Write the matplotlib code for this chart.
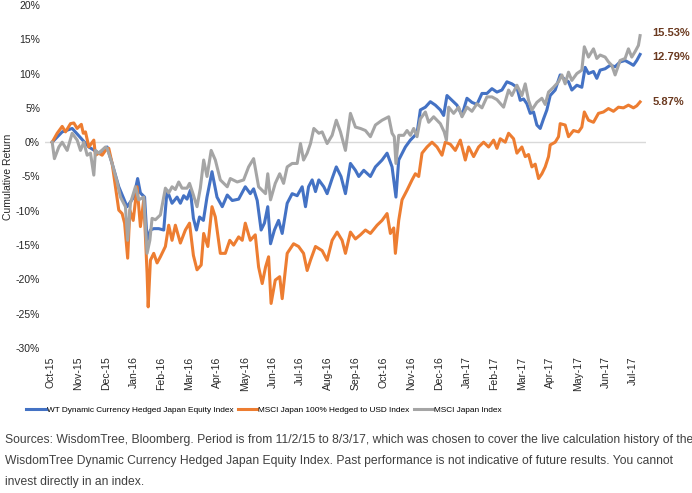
import matplotlib
matplotlib.use("Agg")
import matplotlib.pyplot as plt
from matplotlib.lines import Line2D

plt.rcParams['font.family'] = ['Liberation Sans', 'DejaVu Sans']

# month labels on the x axis
months = ['Oct-15', 'Nov-15', 'Dec-15', 'Jan-16', 'Feb-16', 'Mar-16', 'Apr-16', 'May-16',
          'Jun-16', 'Jul-16', 'Aug-16', 'Sep-16', 'Oct-16', 'Nov-16', 'Dec-16', 'Jan-17',
          'Feb-17', 'Mar-17', 'Apr-17', 'May-17', 'Jun-17', 'Jul-17']

names = ['WT Dynamic Currency Hedged Japan Equity Index',
         'MSCI Japan 100% Hedged to USD Index',
         'MSCI Japan Index']
colors = ['#4472C4', '#ED7D31', '#A5A5A5']

# time in months from the first label, cumulative return in %
wt_t = [0.06, 0.42, 0.78, 0.96, 1.38, 1.74, 2.04, 2.22, 2.46, 2.76, 3.00, 3.14, 3.24, 3.39, 3.48,
        3.60, 3.72, 3.90, 4.08, 4.20, 4.38, 4.56, 4.68, 4.80, 4.92, 5.04, 5.15, 5.26, 5.37, 5.51,
        5.64, 5.82, 6.00, 6.19, 6.37, 6.55, 6.78, 7.02, 7.20, 7.32, 7.45, 7.59, 7.71, 7.83, 7.93,
        8.07, 8.22, 8.35, 8.53, 8.71, 8.89, 9.07, 9.19, 9.30, 9.43, 9.55, 9.67, 9.85, 9.97, 10.15,
        10.30, 10.47, 10.63, 10.81, 10.99, 11.11, 11.29, 11.53, 11.71, 11.95, 12.13, 12.31, 12.45,
        12.55, 12.79, 12.97, 13.21, 13.33, 13.51, 13.69, 13.87, 14.05, 14.17, 14.29, 14.47, 14.65,
        14.83, 15.01, 15.19, 15.37, 15.55, 15.73, 15.91, 16.09, 16.27, 16.45, 16.63, 16.81, 16.93,
        17.05, 17.17, 17.29, 17.41, 17.53, 17.65, 17.77, 17.89, 18.01, 18.19, 18.37, 18.49, 18.67,
        18.79, 18.97, 19.15, 19.27, 19.39, 19.57, 19.69, 19.81, 19.99, 20.17, 20.35, 20.53, 20.71,
        20.89, 21.01, 21.13, 21.25]
wt_v = [0, 1.5, 2.0, 1.2, -0.7, -1.6, -0.7, -3.1, -6.5, -9.4, -8.0, -5.3, -7.4, -8.0, -14.3,
        -12.8, -12.6, -12.6, -12.8, -7.0, -8.9, -8.0, -8.9, -7.8, -8.3, -7.0, -11.1, -12.8, -10.9, -11.4,
        -8.0, -4.3, -8.0, -9.4, -7.7, -8.5, -8.3, -6.5, -7.5, -6.8, -8.5, -12.8, -11.8, -9.4, -14.8,
        -12.8, -11.4, -13.3, -8.9, -7.5, -7.8, -6.5, -9.4, -6.5, -5.5, -7.2, -5.5, -6.5, -7.5, -5.3,
        -3.6, -5.0, -7.5, -3.1, -4.1, -5.0, -4.1, -5.0, -3.6, -2.6, -1.6, -3.6, -8.0,
        -2.6, -0.7, 0.3, 1.3, 4.7, 5.1, 5.9, 5.4, 4.7, 3.9, 6.8, 6.1, 5.4,
        3.9, 6.4, 5.8, 5.5, 7.1, 7.1, 7.8, 7.3, 7.6, 8.8, 8.5, 8.0, 6.1,
        6.3, 5.6, 4.2, 4.4, 2.5, 2.0, 3.4, 4.7, 6.8, 7.6, 9.8, 9.3, 8.8,
        7.6, 8.3, 8.0, 10.9, 10.0, 10.3, 9.3, 10.5, 10.7, 11.2, 11.0, 11.7, 11.9,
        11.5, 11.2, 11.9, 12.79]

hedged_t = [0.06, 0.24, 0.42, 0.54, 0.72, 0.84, 0.96, 1.11, 1.18, 1.26, 1.38, 1.56, 1.62, 1.74, 1.86,
            1.98, 2.10, 2.22, 2.34, 2.46, 2.58, 2.67, 2.78, 2.86, 2.98, 3.12, 3.24, 3.36, 3.48, 3.52,
            3.60, 3.72, 3.84, 3.96, 4.14, 4.26, 4.38, 4.50, 4.68, 4.86, 5.01, 5.15, 5.28, 5.43, 5.52,
            5.67, 5.82, 5.94, 6.12, 6.30, 6.46, 6.60, 6.78, 6.91, 7.02, 7.20, 7.38, 7.50, 7.63, 7.75,
            7.86, 7.95, 8.10, 8.26, 8.35, 8.53, 8.76, 8.94, 9.12, 9.25, 9.37, 9.55, 9.79, 9.97, 10.15,
            10.33, 10.51, 10.63, 10.81, 10.99, 11.17, 11.35, 11.53, 11.77, 11.95, 12.13, 12.25, 12.37,
            12.43, 12.55, 12.67, 12.85, 13.03, 13.15, 13.27, 13.39, 13.57, 13.75, 13.93, 14.11, 14.23,
            14.41, 14.59, 14.77, 14.95, 15.07, 15.25, 15.43, 15.61, 15.79, 15.97, 16.09, 16.21, 16.39,
            16.51, 16.69, 16.81, 16.99, 17.11, 17.23, 17.35, 17.47, 17.59, 17.71, 17.83, 17.95, 18.01,
            18.19, 18.31, 18.37, 18.55, 18.67, 18.85, 19.03, 19.15, 19.24, 19.39, 19.57, 19.75, 19.93,
            20.11, 20.29, 20.47, 20.65, 20.83, 21.01, 21.13, 21.25]
hedged_v = [0, 1.3, 2.3, 1.5, 2.7, 2.8, 2.0, 2.6, 1.3, 1.5, -0.7, 0.3, -1.9, -1.6, -1.9,
            -1.2, -0.9, -3.1, -6.5, -9.9, -10.4, -11.8, -16.9, -9.9, -11.4, -6.5, -12.3, -8.4, -19.1, -24.0,
            -17.2, -16.2, -17.6, -16.7, -15.2, -12.1, -14.3, -12.1, -14.7, -12.8, -11.8, -16.5, -18.6, -17.9, -13.3,
            -15.2, -9.4, -10.9, -16.2, -16.2, -14.3, -15.0, -13.8, -14.3, -11.8, -14.3, -13.5, -18.2, -20.6, -18.2,
            -16.7, -23.5, -20.1, -19.6, -22.8, -16.2, -14.8, -15.2, -16.2, -18.7, -17.2, -15.2, -15.8, -17.2, -14.3,
            -13.1, -14.3, -16.2, -13.1, -14.1, -13.5, -12.8, -13.3, -12.1, -11.4, -10.4, -13.3, -12.5,
            -16.2, -11.4, -8.4, -7.0, -5.5, -4.6, -5.0, -1.6, -0.7, 0.0, -0.7, -1.9, 0.0,
            -0.3, -1.2, 0.3, -2.6, -0.7, -2.1, -0.7, 0.0, -0.7, 0.3, -0.9, 0.5, 0.0,
            1.3, 0.5, -1.6, -0.7, -2.1, -1.8, -3.6, -3.2, -5.3, -4.6, -3.6, -2.1, -0.4,
            0.0, 0.8, 2.7, 2.5, 0.8, 1.7, 1.5, 2.2, 4.4, 3.2, 2.9, 4.2, 4.4,
            4.9, 4.5, 5.1, 5.0, 5.4, 5.0, 5.3, 5.87]

japan_t = [0.06, 0.14, 0.30, 0.42, 0.60, 0.78, 0.96, 1.08, 1.20, 1.32, 1.44, 1.56, 1.62, 1.74, 1.98,
           2.04, 2.22, 2.40, 2.52, 2.70, 2.78, 2.88, 3.06, 3.18, 3.36, 3.48, 3.58, 3.66, 3.78, 3.96,
           4.14, 4.26, 4.38, 4.50, 4.62, 4.74, 4.92, 5.01, 5.15, 5.28, 5.40, 5.52, 5.64, 5.79, 5.94,
           6.12, 6.37, 6.48, 6.73, 6.96, 7.14, 7.32, 7.50, 7.75, 7.83, 7.93, 8.10, 8.26, 8.40, 8.53,
           8.71, 8.89, 9.01, 9.12, 9.25, 9.37, 9.49, 9.67, 9.79, 9.97, 10.15, 10.30, 10.45, 10.63,
           10.81, 10.99, 11.17, 11.35, 11.53, 11.71, 11.95, 12.19, 12.31, 12.39, 12.45, 12.55, 12.73,
           12.85, 12.97, 13.09, 13.21, 13.33, 13.51, 13.63, 13.81, 14.05, 14.19, 14.27, 14.35, 14.53,
           14.71, 14.83, 15.01, 15.19, 15.37, 15.55, 15.73, 15.91, 16.09, 16.33, 16.51, 16.63, 16.81,
           16.99, 17.11, 17.23, 17.35, 17.53, 17.71, 17.83, 17.95, 18.13, 18.31, 18.43, 18.55, 18.67,
           18.79, 18.97, 19.15, 19.24, 19.39, 19.57, 19.69, 19.81, 19.99, 20.11, 20.23, 20.35, 20.53,
           20.71, 20.83, 20.95, 21.07, 21.19, 21.25]
japan_v = [0, -2.4, -0.7, 0.0, -1.2, 1.3, 0.3, -1.2, 0.0, -1.9, -1.6, -4.8, -1.2, -1.6, -0.7,
           -0.9, -3.1, -5.8, -8.0, -9.4, -14.3, -8.9, -6.5, -8.4, -8.0, -16.2, -14.3, -11.1, -11.3, -10.6,
           -6.7, -7.4, -6.5, -6.9, -5.8, -6.7, -6.7, -6.0, -7.7, -9.4, -6.7, -2.6, -5.0, -1.2, -2.6,
           -5.5, -6.5, -5.3, -5.8, -5.5, -3.6, -2.4, -6.5, -7.5, -4.6, -8.4, -6.0, -4.6, -6.0, -3.6,
           -3.1, -3.1, -0.2, -2.6, -1.6, -0.2, 2.0, 1.3, 1.5, -0.2, 1.0, 3.2, 1.5, -1.2,
           4.2, 2.2, 2.0, 1.7, 0.8, 2.5, 3.2, 3.7, 1.3, 0.8, -3.1, 1.0, 1.0,
           1.7, 1.0, 2.0, 0.8, 3.4, 4.4, 2.9, 3.7, 2.7, 1.5, 0.3, 5.1, 4.2,
           5.1, 3.7, 5.1, 4.5, 5.6, 5.0, 6.6, 6.6, 6.2, 5.1, 7.6, 6.8, 8.3,
           6.8, 8.5, 6.1, 4.7, 5.8, 6.4, 5.5, 7.3, 8.0, 8.8, 9.8, 8.5, 10.2,
           9.0, 10.0, 10.5, 13.9, 12.4, 13.6, 12.2, 12.7, 12.4, 11.7, 11.2, 9.8, 11.9,
           12.2, 13.6, 12.4, 13.2, 14.1, 15.53]

end_labels = ['12.79%', '5.87%', '15.53%']

fig = plt.figure(figsize=(6.92, 4.93), dpi=100)
ax = fig.add_axes([0.065, 0.294, 0.868, 0.696])

series = [(wt_t, wt_v), (hedged_t, hedged_v), (japan_t, japan_v)]
for (t, v), c, z in zip(series, colors, [2, 3, 4]):
    ax.plot(t, v, color=c, lw=2.2, zorder=z, solid_joinstyle='round')

ax.axhline(0, color='#D9D9D9', lw=1, zorder=1)
ax.set_ylim(-30, 20)
ax.set_yticks(range(-30, 21, 5))
ax.set_yticklabels([f'{y}%' for y in range(-30, 21, 5)])
ax.set_xlim(-0.2, 21.45)
ax.set_xticks(range(len(months)))
ax.set_xticklabels(months, rotation=90)
ax.tick_params(length=0, labelsize=7.5, colors='#262626')
ax.tick_params(axis='x', pad=6)
for s in ax.spines.values():
    s.set_visible(False)
ax.set_ylabel('Cumulative Return', fontsize=7.5, color='#262626', labelpad=2)

dy = [-2, 0, 2]
for (t, v), lab, d in zip(series, end_labels, dy):
    ax.annotate(lab, xy=(t[-1], v[-1]), xytext=(9, d), textcoords='offset points',
                ha='left', va='center', fontsize=8, fontweight='bold', color='#6B3A20',
                annotation_clip=False)

handles = [Line2D([0], [0], color=c, lw=2.2) for c in colors]
fig.legend(handles, names, loc='center', bbox_to_anchor=(264 / 692, 1 - 410 / 493), ncol=3,
           frameon=False, handlelength=2.4, handletextpad=0.1, columnspacing=0.5,
           fontsize=5.95)

source = ("Sources: WisdomTree, Bloomberg. Period is from 11/2/15 to 8/3/17, which was chosen to cover the live calculation history of the\n"
          "WisdomTree Dynamic Currency Hedged Japan Equity Index. Past performance is not indicative of future results. You cannot\n"
          "invest directly in an index.")
fig.text(0.007, 1 - 434 / 493, source, ha='left', va='top', fontsize=8.75, color='#404040',
         linespacing=2.02)

fig.savefig('out.png', dpi=100)
